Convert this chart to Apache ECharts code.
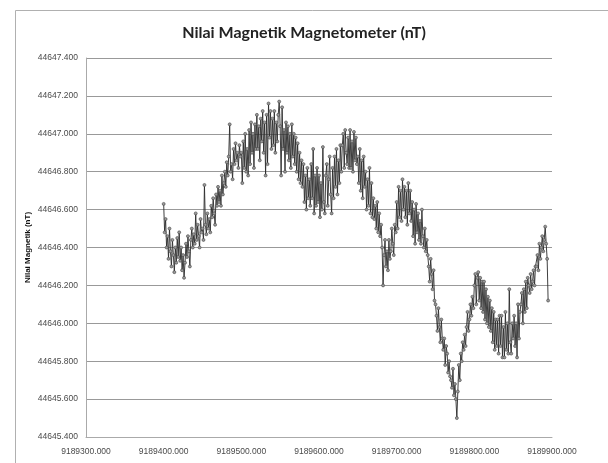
<!DOCTYPE html>
<html>
<head>
<meta charset="utf-8">
<script src="https://cdn.jsdelivr.net/npm/echarts@6/dist/echarts.min.js"></script>
<style>html,body{margin:0;padding:0;background:#fff;}#c{width:608px;height:463px;}</style>
</head>
<body>
<div id="c"></div>
<script>
const titleText = 'Nilai Magnetik Magnetometer (nT)';
const yAxisName = 'Nilai Magnetik (nT)';
const yMin = 44645.4, yMax = 44647.4, yStep = 0.2;
const xMin = 9189300, xMax = 9189900, xStep = 100;

const xs = [
9189400,9189401.25,9189402.5,9189403.75,9189405,9189406.25,9189407.5,9189408.75,
9189410,9189411.25,9189412.5,9189413.75,9189415,9189416.25,9189417.5,9189418.75,
9189420,9189421.25,9189422.5,9189423.75,9189425,9189426.25,9189427.5,9189428.75,
9189430,9189431.25,9189432.5,9189433.75,9189435,9189436.25,9189437.5,9189438.75,
9189440,9189441.25,9189442.5,9189443.75,9189445,9189446.25,9189447.5,9189448.75,
9189450,9189451.25,9189452.5,9189453.75,9189455,9189456.25,9189457.5,9189458.75,
9189460,9189461.25,9189462.5,9189463.75,9189465,9189466.25,9189467.5,9189468.75,
9189470,9189471.25,9189472.5,9189473.75,9189475,9189476.25,9189477.5,9189478.75,
9189480,9189481.25,9189482.5,9189483.75,9189485,9189486.25,9189487.5,9189488.75,
9189490,9189491.25,9189492.5,9189493.75,9189495,9189496.25,9189497.5,9189498.75,
9189500,9189501.25,9189502.5,9189503.75,9189505,9189506.25,9189507.5,9189508.75,
9189510,9189511.25,9189512.5,9189513.75,9189515,9189516.25,9189517.5,9189518.75,
9189520,9189521.25,9189522.5,9189523.75,9189525,9189526.25,9189527.5,9189528.75,
9189530,9189531.25,9189532.5,9189533.75,9189535,9189536.25,9189537.5,9189538.75,
9189540,9189541.25,9189542.5,9189543.75,9189545,9189546.25,9189547.5,9189548.75,
9189550,9189551.25,9189552.5,9189553.75,9189555,9189556.25,9189557.5,9189558.75,
9189560,9189561.25,9189562.5,9189563.75,9189565,9189566.25,9189567.5,9189568.75,
9189570,9189571.25,9189572.5,9189573.75,9189575,9189576.25,9189577.5,9189578.75,
9189580,9189581.25,9189582.5,9189583.75,9189585,9189586.25,9189587.5,9189588.75,
9189590,9189591.25,9189592.5,9189593.75,9189595,9189596.25,9189597.5,9189598.75,
9189600,9189601.25,9189602.5,9189603.75,9189605,9189606.25,9189607.5,9189608.75,
9189610,9189611.25,9189612.5,9189613.75,9189615,9189616.25,9189617.5,9189618.75,
9189620,9189621.25,9189622.5,9189623.75,9189625,9189626.25,9189627.5,9189628.75,
9189630,9189631.25,9189632.5,9189633.75,9189635,9189636.25,9189637.5,9189638.75,
9189640,9189641.25,9189642.5,9189643.75,9189645,9189646.25,9189647.5,9189648.75,
9189650,9189651.25,9189652.5,9189653.75,9189655,9189656.25,9189657.5,9189658.75,
9189660,9189661.25,9189662.5,9189663.75,9189665,9189666.25,9189667.5,9189668.75,
9189670,9189671.25,9189672.5,9189673.75,9189675,9189676.25,9189677.5,9189678.75,
9189680,9189681.25,9189682.5,9189683.75,9189685,9189686.25,9189687.5,9189688.75,
9189690,9189691.25,9189692.5,9189693.75,9189695,9189696.25,9189697.5,9189698.75,
9189700,9189701.25,9189702.5,9189703.75,9189705,9189706.25,9189707.5,9189708.75,
9189710,9189711.25,9189712.5,9189713.75,9189715,9189716.25,9189717.5,9189718.75,
9189720,9189721.25,9189722.5,9189723.75,9189725,9189726.25,9189727.5,9189728.75,
9189730,9189731.25,9189732.5,9189733.75,9189735,9189736.25,9189737.5,9189738.75,
9189740,9189741.25,9189742.5,9189743.75,9189745,9189746.25,9189747.5,9189748.75,
9189750,9189751.25,9189752.5,9189753.75,9189755,9189756.25,9189757.5,9189758.75,
9189760,9189761.25,9189762.5,9189763.75,9189765,9189766.25,9189767.5,9189768.75,
9189770,9189771.25,9189772.5,9189773.75,9189775,9189776.25,9189777.5,9189778.75,
9189780,9189781.25,9189782.5,9189783.75,9189785,9189786.25,9189787.5,9189788.75,
9189790,9189791.25,9189792.5,9189793.75,9189795,9189796.25,9189797.5,9189798.75,
9189800,9189801.25,9189802.5,9189803.75,9189805,9189806.25,9189807.5,9189808.75,
9189810,9189811.25,9189812.5,9189813.75,9189815,9189816.25,9189817.5,9189818.75,
9189820,9189821.25,9189822.5,9189823.75,9189825,9189826.25,9189827.5,9189828.75,
9189830,9189831.25,9189832.5,9189833.75,9189835,9189836.25,9189837.5,9189838.75,
9189840,9189841.25,9189842.5,9189843.75,9189845,9189846.25,9189847.5,9189848.75,
9189850,9189851.25,9189852.5,9189853.75,9189855,9189856.25,9189857.5,9189858.75,
9189860,9189861.25,9189862.5,9189863.75,9189865,9189866.25,9189867.5,9189868.75,
9189870,9189871.25,9189872.5,9189873.75,9189875,9189876.25,9189877.5,9189878.75,
9189880,9189881.25,9189882.5,9189883.75,9189885,9189886.25,9189887.5,9189888.75,
9189890,9189891.25,9189892.5,9189893.75,9189895
];

const ys = [
44646.63,44646.48,44646.55,44646.40,44646.46,44646.34,44646.50,44646.38,
44646.30,44646.44,44646.36,44646.27,44646.40,44646.32,44646.45,44646.35,
44646.48,44646.33,44646.40,44646.28,44646.36,44646.24,44646.32,44646.42,
44646.35,44646.46,44646.38,44646.30,44646.44,44646.50,44646.40,44646.47,
44646.42,44646.58,44646.44,44646.52,44646.46,44646.40,44646.55,44646.48,
44646.50,44646.44,44646.73,44646.52,44646.47,44646.58,44646.50,44646.55,
44646.48,44646.62,44646.56,44646.66,44646.58,44646.52,44646.68,44646.62,
44646.72,44646.64,44646.70,44646.62,44646.78,44646.68,44646.74,44646.80,
44646.72,44646.85,44646.78,44646.88,44647.05,44646.80,44646.84,44646.76,
44646.92,44646.84,44646.95,44646.86,44646.90,44646.82,44646.94,44646.88,
44646.90,44646.74,44646.96,44646.82,44647.00,44646.80,44646.92,44646.78,
44647.02,44646.84,44647.06,44646.90,44647.00,44646.82,44647.05,44646.92,
44647.10,44646.92,44647.04,44646.86,44647.08,44646.96,44647.12,44646.90,
44647.06,44646.78,44647.10,44646.84,44647.16,44646.98,44647.12,44646.92,
44647.08,44646.94,44647.12,44646.90,44647.06,44646.96,44647.10,44647.17,
44647.04,44646.78,44647.14,44646.92,44647.02,44646.80,44647.06,44646.90,
44647.04,44646.86,44647.00,44646.82,44647.05,44646.88,44647.00,44646.84,
44646.98,44646.80,44646.95,44646.76,44646.90,44646.74,44646.86,44646.72,
44646.84,44646.64,44646.78,44646.60,44646.82,44646.66,44646.76,44646.62,
44646.84,44646.66,44646.92,44646.58,44646.78,44646.62,44646.82,44646.64,
44646.78,44646.56,44646.74,44646.60,44646.93,44646.64,44646.58,44646.78,
44646.84,44646.62,44646.76,44646.88,44646.68,44646.58,44646.82,44646.66,
44646.88,44646.72,44646.92,44646.68,44646.86,44646.74,44646.94,44646.80,
44646.94,44647.00,44646.82,44647.02,44646.90,44646.84,44646.98,44646.82,
44647.02,44646.82,44646.96,44646.80,44647.01,44646.86,44646.98,44646.84,
44646.88,44646.74,44646.92,44646.70,44646.86,44646.66,44646.88,44646.72,
44646.80,44646.60,44646.76,44646.62,44646.82,44646.58,44646.74,44646.56,
44646.66,44646.55,44646.62,44646.50,44646.64,44646.48,44646.58,44646.46,
44646.52,44646.40,44646.20,44646.36,44646.44,44646.30,44646.38,44646.28,
44646.44,44646.34,44646.38,44646.50,44646.42,44646.36,44646.52,44646.48,
44646.64,44646.50,44646.72,44646.56,44646.70,44646.54,44646.76,44646.60,
44646.72,44646.56,44646.70,44646.52,44646.74,44646.58,44646.70,44646.54,
44646.64,44646.46,44646.60,44646.42,44646.63,44646.48,44646.58,44646.44,
44646.54,44646.42,44646.60,44646.46,44646.40,44646.50,44646.38,44646.44,
44646.36,44646.30,44646.22,44646.34,44646.26,44646.18,44646.28,44646.12,
44646.10,44646.04,44645.96,44646.08,44645.98,44645.90,44646.02,44645.92,
44645.86,44645.92,44645.78,44645.88,44645.84,44645.74,44645.80,44645.72,
44645.70,44645.66,44645.76,44645.62,44645.68,44645.60,44645.50,44645.64,
44645.78,44645.70,44645.84,44645.80,44645.90,44645.86,44645.94,44645.88,
44645.98,44646.06,44645.96,44646.02,44646.10,44646.04,44646.14,44646.08,
44646.20,44646.26,44646.10,44646.24,44646.27,44646.12,44646.24,44646.08,
44646.22,44646.06,44646.22,44646.02,44646.18,44646.00,44646.14,44645.98,
44646.12,44645.96,44646.08,44645.90,44646.06,44645.86,44646.02,44645.88,
44646.02,44645.84,44646.04,44645.88,44646.04,44645.82,44645.98,44645.82,
44646.06,44645.86,44646.00,44645.84,44646.18,44645.90,44645.84,44646.00,
44645.92,44646.04,44645.88,44646.00,44645.82,44646.10,44645.92,44646.06,
44646.10,44646.16,44646.00,44646.18,44646.06,44646.22,44646.08,44646.24,
44646.20,44646.16,44646.26,44646.18,44646.22,44646.28,44646.20,44646.30,
44646.30,44646.36,44646.28,44646.42,44646.34,44646.40,44646.46,44646.38,
44646.44,44646.51,44646.42,44646.34,44646.12
];

const data = xs.map((x, i) => [x, ys[i]]);

const chart = echarts.init(document.getElementById('c'), null, {renderer: 'canvas'});
chart.setOption({
  animation: false,
  backgroundColor: '#fff',
  title: {
    text: titleText, left: 'center', top: 20,
    textStyle: {fontFamily: 'Lato', fontSize: 16, fontWeight: 'bold', color: '#222'}
  },
  graphic: [{
    type: 'rect', left: 13, top: 8, shape: {width: 640, height: 500},
    style: {fill: 'none', stroke: '#b0b0b0', lineWidth: 1}, silent: true
  }],
  grid: {left: 86, right: 56, top: 58, bottom: 26, containLabel: false},
  xAxis: {
    type: 'value', min: xMin, max: xMax, interval: xStep,
    axisLine: {show: true, lineStyle: {color: '#aaa'}},
    axisTick: {show: false},
    splitLine: {show: false},
    axisLabel: {
      fontFamily: 'Liberation Sans', fontSize: 8.5, color: '#4a4a4a', margin: 10,
      formatter: v => v.toFixed(3)
    }
  },
  yAxis: {
    type: 'value', min: yMin, max: yMax, interval: yStep,
    name: yAxisName, nameLocation: 'middle', nameGap: 54, nameRotate: 90,
    nameMoveOverlap: false,
    nameTextStyle: {fontFamily: 'Liberation Sans', fontSize: 8, fontWeight: 'bold', color: '#111'},
    axisLine: {show: true, lineStyle: {color: '#aaa'}},
    axisTick: {show: false},
    splitLine: {show: true, lineStyle: {color: '#999', width: 1}},
    axisLabel: {
      fontFamily: 'Liberation Sans', fontSize: 8.5, color: '#4a4a4a', margin: 8,
      formatter: v => v.toFixed(3)
    }
  },
  series: [{
    type: 'line', data: data,
    symbol: 'circle', symbolSize: 3, showSymbol: true,
    lineStyle: {color: '#2a2a2a', width: 0.9},
    itemStyle: {color: '#999', borderColor: '#444', borderWidth: 0.6}
  }]
});
</script>
</body>
</html>
